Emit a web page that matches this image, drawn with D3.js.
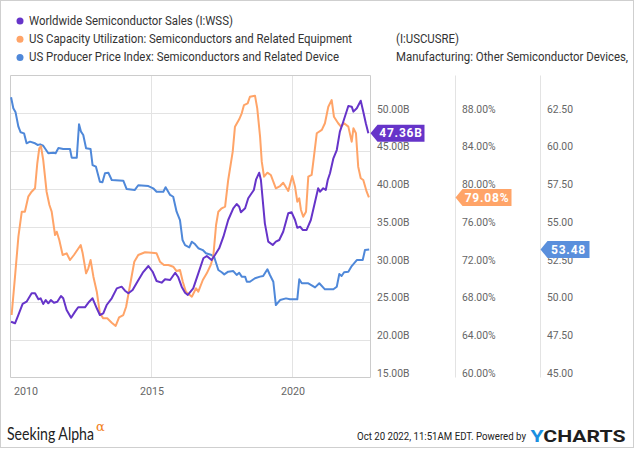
<!DOCTYPE html>
<html><head><meta charset="utf-8">
<script src="https://cdn.jsdelivr.net/npm/d3@7"></script>
<style>body{margin:0;background:#fff}svg{display:block}</style>
</head><body>
<svg id="chart" width="635" height="450"></svg>
<script>
// ---- Data (decimal year, value) ----
const wssDates = [2010.02,2010.16,2010.28,2010.43,2010.57,2010.75,2010.87,2010.99,2011.07,2011.16,2011.25,2011.34,2011.43,2011.54,2011.66,2011.79,2011.87,2011.99,2012.15,2012.29,2012.40,2012.64,2012.79,2012.91,2013.06,2013.17,2013.29,2013.41,2013.59,2013.77,2013.94,2014.06,2014.18,2014.33,2014.50,2014.69,2014.89,2015.04,2015.18,2015.36,2015.48,2015.66,2015.84,2015.95,2016.07,2016.19,2016.29,2016.48,2016.66,2016.84,2016.96,2017.13,2017.25,2017.40,2017.55,2017.72,2017.90,2018.02,2018.11,2018.17,2018.32,2018.43,2018.55,2018.63,2018.71,2018.82,2018.88,2019.02,2019.14,2019.30,2019.41,2019.53,2019.67,2019.85,2019.97,2020.09,2020.17,2020.27,2020.36,2020.50,2020.65,2020.80,2020.91,2020.98,2021.09,2021.18,2021.25,2021.33,2021.45,2021.57,2021.68,2021.80,2021.98,2022.10,2022.16,2022.28,2022.42,2022.51,2022.60,2022.69];
const wssValues = [22.39,22.18,23.28,24.74,25.04,26.15,26.15,25.36,25.49,24.74,25.26,24.83,25.26,24.91,25.04,25.79,25.49,23.94,22.92,23.72,24.30,24.30,25.04,25.49,24.17,23.28,23.50,24.60,25.49,26.81,27.03,26.50,26.15,26.59,27.69,28.88,29.77,29.01,27.78,27.56,28.01,27.91,28.88,28.27,27.03,26.23,25.93,26.81,28.80,30.79,31.09,30.56,31.23,32.11,33.65,35.86,37.41,37.98,37.62,36.88,37.41,38.74,39.40,39.83,41.25,42.13,41.16,35.42,32.99,32.55,32.99,33.21,34.31,36.75,36.88,35.86,34.84,34.97,34.54,34.54,35.86,38.28,40.06,39.61,40.06,39.83,41.16,42.05,44.03,45.13,47.56,48.88,50.96,50.87,50.21,50.66,51.66,50.21,48.67,47.36];

const capDates = [2010.04,2010.16,2010.28,2010.40,2010.51,2010.63,2010.75,2010.87,2010.95,2011.02,2011.08,2011.16,2011.28,2011.38,2011.46,2011.58,2011.64,2011.73,2011.85,2011.99,2012.11,2012.25,2012.37,2012.49,2012.56,2012.68,2012.76,2012.84,2012.94,2013.06,2013.17,2013.29,2013.43,2013.59,2013.73,2013.85,2014.00,2014.10,2014.24,2014.39,2014.53,2014.77,2015.01,2015.18,2015.30,2015.44,2015.60,2015.77,2015.89,2016.01,2016.11,2016.22,2016.43,2016.58,2016.66,2016.82,2016.96,2017.10,2017.19,2017.29,2017.37,2017.49,2017.61,2017.72,2017.88,2017.96,2018.11,2018.20,2018.28,2018.41,2018.49,2018.67,2018.75,2018.85,2018.91,2018.99,2019.11,2019.23,2019.32,2019.41,2019.56,2019.67,2019.85,2019.99,2020.09,2020.17,2020.24,2020.30,2020.38,2020.48,2020.56,2020.68,2020.76,2020.86,2021.04,2021.15,2021.27,2021.39,2021.47,2021.62,2021.72,2021.83,2021.98,2022.10,2022.16,2022.25,2022.33,2022.42,2022.51,2022.63,2022.71];
const capValues = [66.62,70.68,74.92,77.57,77.57,79.16,79.69,80.05,82.70,84.29,84.53,83.05,79.69,78.28,77.57,75.10,75.45,74.57,72.98,73.16,72.45,72.98,73.51,74.04,73.16,71.04,71.57,72.45,70.68,69.09,66.80,66.27,66.27,65.81,65.46,66.38,66.62,67.50,69.80,72.27,72.98,73.27,73.22,73.16,72.27,71.92,71.92,71.74,71.28,71.39,70.15,69.09,68.56,69.45,69.09,70.33,71.04,71.92,72.80,76.16,77.57,77.93,78.10,80.93,83.93,86.58,87.36,87.99,88.87,89.05,89.75,89.86,88.52,85.52,82.87,81.28,81.70,81.46,80.75,80.05,80.29,80.64,79.76,81.35,80.22,78.63,78.99,77.75,77.04,77.57,81.28,81.46,83.40,85.88,86.23,86.94,88.69,89.40,87.63,86.94,86.58,86.94,86.58,84.99,86.41,85.88,82.34,81.11,80.93,79.69,79.08];

const ppiDates = [2010.02,2010.10,2010.18,2010.28,2010.36,2010.48,2010.57,2010.69,2010.87,2010.96,2011.05,2011.16,2011.34,2011.52,2011.60,2011.70,2011.87,2012.11,2012.17,2012.35,2012.43,2012.50,2012.58,2012.68,2012.84,2012.91,2013.03,2013.17,2013.26,2013.35,2013.47,2013.59,2014.00,2014.12,2014.41,2014.53,2014.89,2015.06,2015.18,2015.42,2015.50,2015.66,2015.77,2015.89,2016.01,2016.10,2016.19,2016.34,2016.43,2016.54,2016.66,2016.82,2016.93,2017.13,2017.22,2017.37,2017.49,2017.58,2017.72,2017.90,2018.02,2018.11,2018.20,2018.32,2018.38,2018.49,2018.67,2018.85,2018.96,2019.11,2019.20,2019.32,2019.41,2019.56,2019.77,2019.91,2020.17,2020.24,2020.33,2020.56,2020.80,2020.95,2021.15,2021.45,2021.57,2021.66,2021.74,2021.83,2021.98,2022.10,2022.28,2022.49,2022.57,2022.72];
const ppiValues = [63.56,62.83,62.56,61.61,61.24,61.17,60.51,60.62,60.51,60.40,60.44,60.35,59.85,59.89,59.85,60.20,60.13,60.13,59.56,59.56,61.77,61.28,61.06,60.18,60.13,59.07,58.96,57.97,57.93,58.52,58.56,58.08,58.03,57.48,57.42,57.73,57.68,57.53,57.30,57.30,57.60,57.09,56.97,55.98,55.43,54.11,53.77,53.62,53.99,53.84,53.56,53.44,53.23,53.11,53.00,52.12,51.97,51.83,52.01,52.05,51.79,51.94,51.68,51.68,51.34,51.34,51.57,51.68,51.72,52.17,51.79,51.34,49.80,50.13,50.24,50.18,50.18,51.50,51.24,51.24,50.97,51.24,50.84,50.84,51.01,51.85,51.72,51.97,52.01,52.38,52.78,52.78,53.44,53.48];

const yearTicks = [2010, 2015, 2020];
const wssTicks = [15,20,25,30,35,40,45,50];
const capTicks = [60,64,68,72,76,80,84,88];
const ppiTicks = [45,47.5,50,52.5,55,57.5,60,62.5];

const legendNames = ["Worldwide Semiconductor Sales (I:WSS)",
  "US Capacity Utilization: Semiconductors and Related Equipment",
  "US Producer Price Index: Semiconductors and Related Device"];
const legendExtra = ["", "(I:USCUSRE)", "Manufacturing: Other Semiconductor Devices, Including Parts (I:USPPISRD)"];
const colors = ["#6634c9", "#ffa468", "#4f88d9"];
const lastLabels = ["47.36B", "79.08%", "53.48"];

// ---- Layout ----
const svg = d3.select("#chart");
const L = 10.5, R = 370.5, T = 75.5, B = 377.5;
const colX = [370.5, 455.5, 540.5];

const x = d3.scaleLinear().domain([2010, 2022.766]).range([L, R]);
const yW = d3.scaleLinear().domain([15, 55]).range([B, T]);
const yC = d3.scaleLinear().domain([60, 92]).range([B, T]);
const yP = d3.scaleLinear().domain([45, 65]).range([B, T]);

function squeeze(sel, f){
  sel.each(function(){
    const w = this.getComputedTextLength();
    d3.select(this).attr("textLength", w*f).attr("lengthAdjust","spacingAndGlyphs");
  });
}

// outer frame
svg.append("rect").attr("x",0.5).attr("y",0.5).attr("width",633).attr("height",447)
  .attr("fill","none").attr("stroke","#cfcfcf");

// legend
svg.append("clipPath").attr("id","lgclip").append("rect").attr("x",0).attr("y",0).attr("width",631).attr("height",70);
const lg = svg.append("g").attr("font-family","Roboto, sans-serif").attr("font-size",12).attr("fill","#333");
legendNames.forEach((n,i)=>{
  const yy = 21 + i*18.2;
  lg.append("circle").attr("cx",20).attr("cy",yy).attr("r",3.5).attr("fill",colors[i]);
  squeeze(lg.append("text").attr("x",29).attr("y",yy+4).text(n), 0.95);
  if (legendExtra[i]) {
    squeeze(lg.append("g").attr("clip-path","url(#lgclip)")
      .append("text").attr("x",396).attr("y",yy+4).text(legendExtra[i]), 0.95);
  }
});

// gridlines
const grid = svg.append("g");
grid.selectAll("line.h").data(wssTicks.filter(d=>d>15)).join("line")
  .attr("x1",L).attr("x2",R).attr("y1",d=>Math.round(yW(d))+0.5).attr("y2",d=>Math.round(yW(d))+0.5)
  .attr("stroke","#e3e3e3");
grid.selectAll("line.v").data(yearTicks.filter(d=>d>2010)).join("line")
  .attr("x1",d=>Math.round(x(d))+0.5).attr("x2",d=>Math.round(x(d))+0.5).attr("y1",T).attr("y2",B)
  .attr("stroke","#e3e3e3");
// plot frame
svg.append("path").attr("d",`M${L},${T}H${R}M${L},${T}V${B}H${R}`).attr("fill","none").attr("stroke","#cccccc");
// axis column lines
colX.forEach((cx,i)=>{
  svg.append("line").attr("x1",cx).attr("x2",cx).attr("y1",T).attr("y2",B)
    .attr("stroke", i===0 ? "#cccccc" : "#e3e3e3");
});

// right axes
function rightAxis(scale, ticks, fmt, xpos){
  const g = svg.append("g").attr("transform",`translate(${xpos},0)`);
  const ax = d3.axisRight(scale).tickValues(ticks).tickFormat(fmt).tickSize(0).tickPadding(0);
  g.call(ax);
  g.select(".domain").remove();
  g.selectAll("text").attr("font-family","Roboto, sans-serif").attr("font-size",11.5).attr("fill","#666")
    .attr("dy",null).attr("y",-1.2).attr("x",6.5);
  squeeze(g.selectAll("text"), 0.9);
}
rightAxis(yW, wssTicks, d=>d3.format(".2f")(d)+"B", colX[0]);
rightAxis(yC, capTicks, d=>d3.format(".2f")(d)+"%", colX[1]);
rightAxis(yP, ppiTicks, d3.format(".2f"), colX[2]);

// bottom axis
const xb = svg.append("g").attr("transform",`translate(0,${B})`);
xb.call(d3.axisBottom(x).tickValues(yearTicks).tickFormat(d3.format("d")).tickSize(0).tickPadding(0));
xb.select(".domain").remove();
xb.selectAll("text").attr("font-family","Roboto, sans-serif").attr("font-size",11.5).attr("fill","#666")
  .attr("dy",null).attr("y",17.5)
  .attr("text-anchor",d=>d===2010?"start":"middle")
  .attr("x",d=>d===2010?3:0);
squeeze(xb.selectAll("text"), 0.93);

// lines
const series = [
  {d: ppiDates, v: ppiValues, y: yP, c: colors[2]},
  {d: capDates, v: capValues, y: yC, c: colors[1]},
  {d: wssDates, v: wssValues, y: yW, c: colors[0]}
];
series.forEach(s=>{
  const pts = s.d.map((t,i)=>[t, s.v[i]]);
  svg.append("path").datum(pts)
    .attr("d", d3.line().x(p=>x(p[0])).y(p=>s.y(p[1])))
    .attr("fill","none").attr("stroke",s.c).attr("stroke-width",2).attr("stroke-linejoin","round");
});

// last value flags
const flags = [
  {v: wssValues[wssValues.length-1], y: yW, x0: colX[0], w: 47, c: "#6634c9", t: lastLabels[0]},
  {v: capValues[capValues.length-1], y: yC, x0: colX[1], w: 49, c: "#ffa468", t: lastLabels[1]},
  {v: ppiValues[ppiValues.length-1], y: yP, x0: colX[2], w: 42, c: "#5a8fdc", t: lastLabels[2]}
];
flags.forEach(f=>{
  const yy = f.y(f.v), h = 8.5, tip = 7;
  svg.append("path")
    .attr("d",`M${f.x0},${yy}L${f.x0+tip},${yy-h}H${f.x0+tip+f.w}V${yy+h}H${f.x0+tip}Z`)
    .attr("fill",f.c);
  svg.append("text").attr("x",f.x0+tip+f.w/2).attr("y",yy+4.3).attr("text-anchor","middle")
    .attr("font-family","Roboto, sans-serif").attr("font-weight","bold").attr("font-size",12)
    .attr("letter-spacing","0.8px").attr("fill","#fff").text(f.t);
});

// footer
svg.append("text").attr("x",7).attr("y",440).attr("font-family","Lato, 'Open Sans', sans-serif")
  .attr("font-size",17).attr("fill","#222").attr("textLength",87).attr("lengthAdjust","spacingAndGlyphs")
  .text("Seeking Alpha");
svg.append("text").attr("x",96).attr("y",431).attr("font-family","'DejaVu Serif', serif")
  .attr("font-size",13).attr("fill","#f27e1a").text("α");
svg.append("text").attr("x",357).attr("y",440).attr("font-family","Roboto, sans-serif")
  .attr("font-size",11).attr("fill","#222").attr("textLength",169).attr("lengthAdjust","spacingAndGlyphs")
  .text("Oct 20 2022, 11:51AM EDT.  Powered by");
const yc = svg.append("text").attr("x",530.5).attr("y",442).attr("font-family","Roboto, sans-serif")
  .attr("font-size",17).attr("font-weight","bold").attr("textLength",95).attr("lengthAdjust","spacingAndGlyphs");
yc.append("tspan").attr("fill","#1b8fe0").text("Y");
yc.append("tspan").attr("fill","#1e1e1e").text("CHARTS");
</script>
</body></html>
